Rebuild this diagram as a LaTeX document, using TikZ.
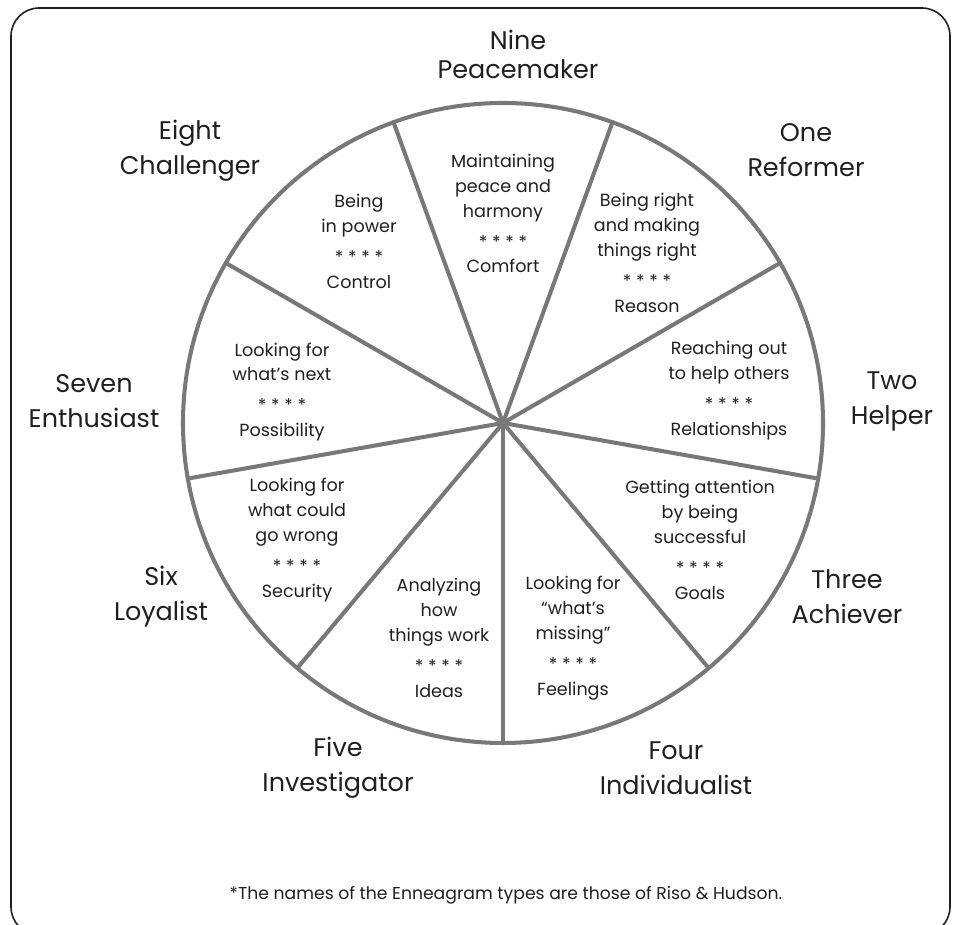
\documentclass[tikz,border=0pt]{standalone}
\usepackage{fontspec}
\setmainfont{Poppins}
\usepackage{tikz}
\usetikzlibrary{calc}
\definecolor{spoke}{gray}{0.47}
\definecolor{ink}{gray}{0.12}

\begin{document}
\begin{tikzpicture}[x=0.02cm,y=0.02cm,
  wedge/.style={align=center,text=ink,font=\fontsize{10}{14.2}\selectfont},
  typename/.style={align=center,text=ink,font=\fontsize{14.5}{19.9}\selectfont}]
\useasboundingbox (0,0) rectangle (953,925);
\draw[ink,line width=0.9pt,rounded corners=16pt] (11,-10) rectangle (950,917);

% wheel
\coordinate (c) at (503,502);
\draw[spoke,line width=2.3pt] (c) circle (320);
\foreach \a [count=\i] in {110,70,30,-10,-50,-90,-130,-170,150}
{
  \coordinate (p\i) at ($(c)+(\a:320)$);
  \draw[spoke,line width=2.3pt,line cap=round] (c)--(p\i);
}

% what each type is after
\node[wedge] (w9) at (503,711.5) {Maintaining\\peace and\\harmony\\[3.4pt]* * * *\\Comfort};
\node[wedge] (w8) at (359,683.5) {Being\\in power\\[3.4pt]* * * *\\Control};
\node[wedge] (w1) at (647,672)   {Being right\\and making\\things right\\[3.4pt]* * * *\\Reason};
\node[wedge] (w7) at (282,533)   {Looking for\\what’s next\\[3.4pt]* * * *\\Possibility};
\node[wedge] (w2) at (729,534)   {Reaching out\\to help others\\[3.4pt]* * * *\\Relationships};
\node[wedge] (w6) at (297,385)   {Looking for\\what could\\go wrong\\[3.4pt]* * * *\\Security};
\node[wedge] (w3) at (700,385)   {Getting attention\\by being\\successful\\[3.4pt]* * * *\\Goals};
\node[wedge] (w5) at (439,287)   {Analyzing\\how\\things work\\[3.4pt]* * * *\\Ideas};
\node[wedge] (w4) at (573,287)   {Looking for\\“what’s\\missing”\\[3.4pt]* * * *\\Feelings};

% type names
\node[typename,font=\fontsize{14.5}{16.5}\selectfont] (t9) at (518,871) {Nine\\Peacemaker};
\node[typename] (t8) at (190,774) {Eight\\Challenger};
\node[typename] (t1) at (806,775) {One\\Reformer};
\node[typename] (t7) at (94,524)  {Seven\\Enthusiast};
\node[typename] (t2) at (892,524) {Two\\Helper};
\node[typename] (t6) at (161,328) {Six\\Loyalist};
\node[typename] (t3) at (847,328) {Three\\Achiever};
\node[typename] (t5) at (338,157) {Five\\Investigator};
\node[typename] (t4) at (676,157) {Four\\Individualist};

\node[text=ink,font=\fontsize{9.8}{12}\selectfont] (note) at (506,30)
  {*The names of the Enneagram types are those of Riso \& Hudson.};
\end{tikzpicture}
\end{document}
